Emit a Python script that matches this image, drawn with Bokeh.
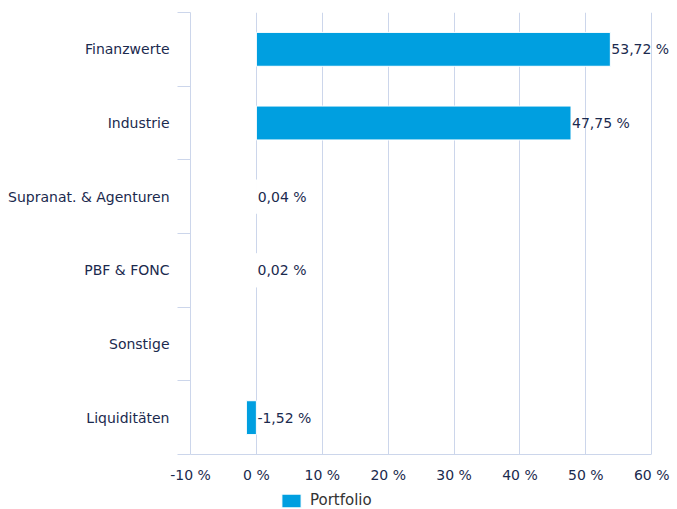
import numpy as np
from bokeh.plotting import figure
from bokeh.layouts import column
from bokeh.models import (Range1d, FixedTicker, ColumnDataSource, LabelSet,
                          Legend, LegendItem)
from bokeh.core.properties import value
from bokeh.embed import file_html
from bokeh.resources import INLINE

categories = ["Finanzwerte", "Industrie", "Supranat. & Agenturen", "PBF & FONC",
              "Sonstige", "Liquiditäten"]
portfolio = [53.72, 47.75, 0.04, 0.02, None, -1.52]
x_ticks = [-10, 0, 10, 20, 30, 40, 50, 60]
x_tick_labels = ["-10 %", "0 %", "10 %", "20 %", "30 %", "40 %", "50 %", "60 %"]
series_name = "Portfolio"

BAR = "#009FE0"
GRID = "#ccd6eb"
TEXT = "#1b2a4e"
FONT = "DejaVu Sans"

n = len(categories)
ypos = [n - i - 0.5 for i in range(n)]
vals = [np.nan if v is None else v for v in portfolio]

p = figure(width=677, height=486, output_backend="svg", toolbar_location=None,
           x_range=Range1d(x_ticks[0], x_ticks[-1] + 3), y_range=Range1d(0, n),
           min_border_left=190, min_border_right=6, min_border_top=12,
           min_border_bottom=32, frame_width=481, frame_height=442)
p.outline_line_color = None
p.background_fill_color = "white"
p.border_fill_color = "white"

src = ColumnDataSource(dict(y=ypos, v=vals))
p.hbar(y="y", left=0, right="v", height=0.46, source=src,
       fill_color=BAR, line_color="#ffffff", line_width=1)

lab_x, lab_y, lab_t = [], [], []
for y, v in zip(ypos, portfolio):
    if v is None:
        continue
    lab_x.append(max(v, 0))
    lab_y.append(y)
    lab_t.append(f"{v:.2f}".replace(".", ",") + " %")
lsrc = ColumnDataSource(dict(x=lab_x, y=lab_y, t=lab_t))
p.add_layout(LabelSet(x="x", y="y", text="t", source=lsrc, x_offset=1,
                      text_align="left", text_baseline="middle",
                      text_font=value(FONT), text_font_size=value("14px"),
                      text_color=TEXT))

# x axis
xa = p.xaxis[0]
xa.ticker = FixedTicker(ticks=x_ticks)
xa.bounds = (x_ticks[0], x_ticks[-1])
xa.major_label_overrides = {t: l for t, l in zip(x_ticks, x_tick_labels)}
xa.axis_line_color = GRID
xa.major_tick_line_color = None
xa.minor_tick_line_color = None
xa.major_tick_out = 0
xa.major_tick_in = 0
xa.major_label_standoff = 12
xa.major_label_text_font = FONT
xa.major_label_text_font_size = "14px"
xa.major_label_text_color = TEXT

p.xgrid.ticker = FixedTicker(ticks=x_ticks)
p.xgrid.grid_line_color = GRID
p.ygrid.grid_line_color = None

# y axis
ya = p.yaxis[0]
ya.ticker = FixedTicker(ticks=ypos, minor_ticks=list(range(n + 1)))
ya.major_label_overrides = {y: c for y, c in zip(ypos, categories)}
ya.axis_line_color = GRID
ya.major_tick_line_color = None
ya.major_tick_out = 0
ya.major_tick_in = 0
ya.minor_tick_line_color = GRID
ya.minor_tick_out = 13
ya.minor_tick_in = 0
ya.major_label_standoff = 8
ya.major_label_text_font = FONT
ya.major_label_text_font_size = "14px"
ya.major_label_text_color = TEXT

# legend strip below the chart (its frame is aligned with the main frame)
p2 = figure(width=677, height=23, output_backend="svg", toolbar_location=None,
            x_range=Range1d(x_ticks[0], x_ticks[-1] + 3),
            y_range=Range1d(n + 10, n + 11),
            x_axis_location=None, y_axis_location=None,
            min_border_left=0, min_border_right=0, min_border_top=0,
            min_border_bottom=0)
p2.outline_line_color = None
p2.background_fill_color = "white"
p2.border_fill_color = "white"
p2.xgrid.grid_line_color = None
p2.ygrid.grid_line_color = None
lr = p2.hbar(y="y", left=0, right="v", height=0.46, source=src,
             fill_color=BAR, line_color="#ffffff", line_width=1)
legend = Legend(items=[LegendItem(label=series_name, renderers=[lr])],
                location=(89, 0), orientation="horizontal",
                glyph_width=24, glyph_height=17, label_height=17,
                label_standoff=7,
                label_text_font=FONT, label_text_font_size="15px",
                label_text_color="#333333", padding=0, margin=0,
                border_line_color=None, background_fill_alpha=0)
p2.add_layout(legend, "center")

layout = column(p, p2, spacing=0)
open("out.html", "w").write(file_html(layout, INLINE))
